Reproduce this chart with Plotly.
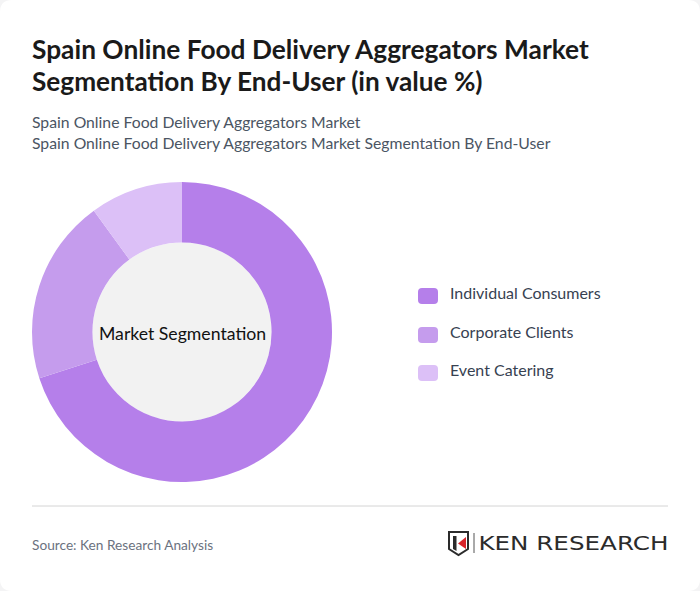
import plotly.graph_objects as go

W = 700
H = 591

categories = ['Individual Consumers', 'Corporate Clients', 'Event Catering']
values = [70, 20, 10]
colors = ['#b57fea', '#c59ced', '#dcc0f7']

title_lines = ['Spain Online Food Delivery Aggregators Market', 'Segmentation By End-User (in value %)']
subtitle_lines = ['Spain Online Food Delivery Aggregators Market', 'Spain Online Food Delivery Aggregators Market Segmentation By End-User']
center_label = 'Market Segmentation'
source_text = 'Source: Ken Research Analysis'
logo_text = 'KEN RESEARCH'


def px(x):
    return x / W


def py(y):
    return 1 - y / H


def label(x, y, text, size, color, weight=400, family='Lato', anchor='left'):
    return dict(x=px(x), y=py(y), xref='paper', yref='paper', text=text, showarrow=False,
                xanchor=anchor, yanchor='middle', align=anchor,
                font=dict(family=family, size=size, color=color, weight=weight))


def round_rect(x0, y0, x1, y1, r):
    return (f'M{px(x0 + r)},{py(y0)} L{px(x1 - r)},{py(y0)} Q{px(x1)},{py(y0)} {px(x1)},{py(y0 + r)} '
            f'L{px(x1)},{py(y1 - r)} Q{px(x1)},{py(y1)} {px(x1 - r)},{py(y1)} '
            f'L{px(x0 + r)},{py(y1)} Q{px(x0)},{py(y1)} {px(x0)},{py(y1 - r)} '
            f'L{px(x0)},{py(y0 + r)} Q{px(x0)},{py(y0)} {px(x0 + r)},{py(y0)} Z')


def poly(points):
    return 'M' + ' L'.join(f'{px(x)},{py(y)}' for x, y in points) + ' Z'


fig = go.Figure(go.Pie(
    labels=categories,
    values=values,
    hole=0.597,
    sort=False,
    direction='clockwise',
    rotation=0,
    textinfo='none',
    marker=dict(colors=colors, line=dict(width=0)),
    domain=dict(x=[px(32), px(332)], y=[py(482), py(182)]),
    showlegend=False,
))

shapes = [
    # card behind everything
    dict(type='path', path=round_rect(0, 0, W, H, 12), fillcolor='white', line_width=0, layer='below',
         xref='paper', yref='paper'),
    # centre of the donut
    dict(type='circle', x0=px(92.5), x1=px(271.5), y0=py(421.5), y1=py(242.5), fillcolor='#f2f2f2',
         line_width=0, layer='below', xref='paper', yref='paper'),
    # divider
    dict(type='line', x0=px(32), x1=px(668), y0=py(506), y1=py(506), line=dict(color='#d4d4d4', width=1),
         xref='paper', yref='paper'),
    # logo
    dict(type='path', path=poly([(449, 532), (468, 532), (468, 549), (458.5, 555), (449, 549)]),
         fillcolor='rgba(0,0,0,0)', line=dict(color='#2b2b2b', width=2), xref='paper', yref='paper'),
    dict(type='path', path=poly([(453, 536), (456.5, 536), (456.5, 551), (453, 549)]),
         fillcolor='#2b2b2b', line_width=0, xref='paper', yref='paper'),
    dict(type='path', path=poly([(466, 537), (458, 543.5), (466, 549)]),
         fillcolor='#d8232a', line_width=0, xref='paper', yref='paper'),
    dict(type='line', x0=px(474), x1=px(474), y0=py(533), y1=py(553), line=dict(color='#555555', width=1),
         xref='paper', yref='paper'),
]

annotations = [
    label(30, 49, title_lines[0], 26.3, '#1a1a1a', 700),
    label(30, 81.5, title_lines[1], 26.2, '#1a1a1a', 700),
    label(30, 121, subtitle_lines[0], 15.75, '#4b5563'),
    label(30, 142, subtitle_lines[1], 15.75, '#4b5563'),
    label(182, 333, center_label, 17.65, '#111111', anchor='center'),
    label(30, 544, source_text, 13.7, '#6b7280'),
    label(573.5, 543, logo_text, 19, '#2b2b2b', family='DejaVu Sans', anchor='center'),
]

swatch_y = [296, 335, 373]
legend_text_y = [292, 331, 369]
for name, color, sy, ty in zip(categories, colors, swatch_y, legend_text_y):
    shapes.append(dict(type='path', path=round_rect(418, sy - 8, 438, sy + 8, 4), fillcolor=color, line_width=0,
                       xref='paper', yref='paper'))
    annotations.append(label(448, ty, name, 16, '#374151'))

fig.update_layout(
    width=W,
    height=H,
    margin=dict(l=0, r=0, t=0, b=0),
    paper_bgcolor='#f4f4f5',
    shapes=shapes,
    annotations=annotations,
    font=dict(family='Lato'),
)

# the logo wordmark is an extended face, so stretch the text to its width
stretch_logo = """
document.body.style.margin = '0';
document.querySelectorAll('.annotation-text').forEach(function (t) {
    if (t.textContent === 'KEN RESEARCH') {
        t.setAttribute('textLength', '190');
        t.setAttribute('lengthAdjust', 'spacingAndGlyphs');
    }
});
"""

fig.write_html('out.html', config={'displayModeBar': False}, post_script=stretch_logo)
